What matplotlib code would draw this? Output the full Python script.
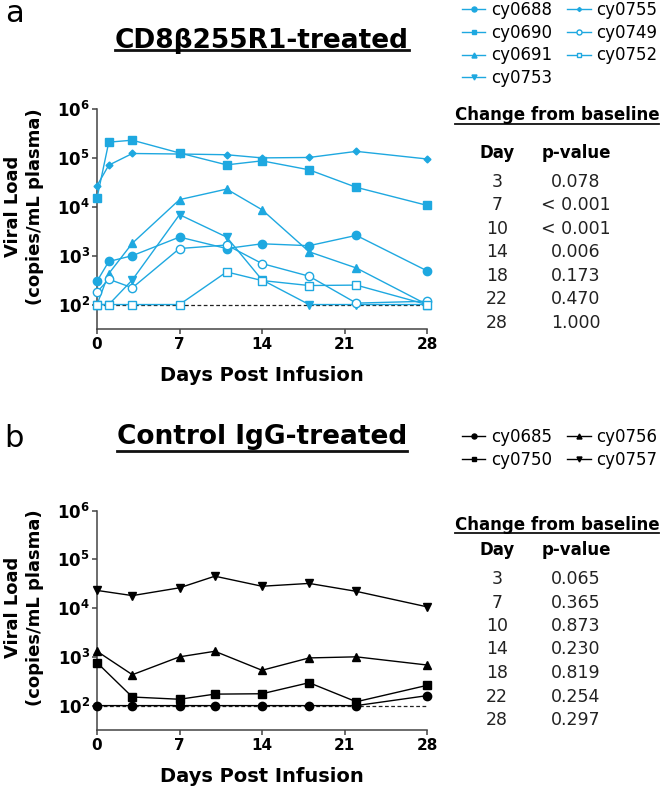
import matplotlib
matplotlib.use("Agg")
import matplotlib.pyplot as plt
from matplotlib.lines import Line2D

plt.rcParams['font.family'] = ['DejaVu Sans']
plt.rcParams['mathtext.fontset'] = 'dejavusans'

# panel a: CD8b255R1-treated
days_a = [0, 1, 3, 7, 11, 14, 18, 22, 28]
cy0688 = [300, 760, 1000, 2400, 1400, 1750, 1600, 2600, 490]
cy0690 = [15000, 210000, 230000, 126000, 72000, 87000, 57000, 25000, 10700]
cy0691 = [100, 430, 1800, 14000, 23000, 8700, 1200, 560, 100]
cy0753 = [100, 100, 320, 6900, 2400, 320, 100, 100, 100]
cy0755 = [27000, 71000, 123000, 120000, 116000, 100000, 102000, 136000, 95000]
cy0749 = [180, 330, 220, 1400, 1650, 690, 380, 107, 117]
cy0752 = [100, 100, 100, 100, 465, 310, 245, 250, 100]

# panel b: control IgG-treated
days_b = [0, 3, 7, 10, 14, 18, 22, 28]
cy0685 = [100, 100, 100, 100, 100, 100, 100, 160]
cy0750 = [760, 150, 135, 172, 175, 295, 120, 260]
cy0756 = [1300, 430, 1000, 1300, 530, 950, 1000, 680]
cy0757 = [23000, 18000, 26000, 45000, 28000, 32000, 22000, 10600]

lod = 100
table_days = ['3', '7', '10', '14', '18', '22', '28']
pvals_a = ['0.078', '< 0.001', '< 0.001', '0.006', '0.173', '0.470', '1.000']
pvals_b = ['0.065', '0.365', '0.873', '0.230', '0.819', '0.254', '0.297']

cyan = '#1ea8e0'
W, H = 666, 791
fig = plt.figure(figsize=(W / 100, H / 100), dpi=100)


def fx(x):
    return x / W


def fy(y):
    return 1 - y / H


ax_a = fig.add_axes([fx(97), fy(329), fx(427) - fx(97), fy(109) - fy(329)])
ax_b = fig.add_axes([fx(97), fy(730), fx(427) - fx(97), fy(510.5) - fy(730)])


def style(ax):
    ax.set_yscale('log')
    ax.set_ylim(10 ** 1.5, 1e6)
    ax.set_xlim(0, 28)
    ax.set_xticks([0, 7, 14, 21, 28])
    ax.set_xticklabels(['0', '7', '14', '21', '28'], fontsize=11, fontweight='bold')
    ax.set_yticks([1e2, 1e3, 1e4, 1e5, 1e6])
    ax.set_yticklabels([r'$\mathbf{10^{%d}}$' % k for k in range(2, 7)], fontsize=12)
    ax.minorticks_off()
    for s in ['top', 'right']:
        ax.spines[s].set_visible(False)
    for s in ['left', 'bottom']:
        ax.spines[s].set_color('#444444')
        ax.spines[s].set_linewidth(1.1)
    ax.tick_params(axis='both', length=3.5, width=1.1, color='#444444')
    ax.tick_params(axis='x', pad=2.5)
    ax.tick_params(axis='y', pad=1.5)
    ax.set_xlabel('Days Post Infusion', fontsize=14, fontweight='bold')
    ax.xaxis.set_label_coords(0.5, -0.17)
    ax.set_ylabel('Viral Load\n(copies/mL plasma)', fontsize=13, fontweight='bold',
                  linespacing=1.3, va='center')
    ax.yaxis.set_label_coords(-0.22, 0.558)
    ax.plot([0, 28], [lod, lod], color='#222222', ls=(0, (3, 2)), lw=0.9, zorder=1)


style(ax_a)
style(ax_b)

kw = dict(lw=1.0, clip_on=False, zorder=3)
ax_a.plot(days_a, cy0688, color=cyan, marker='o', ms=6, mec=cyan, label='cy0688', **kw)
ax_a.plot(days_a, cy0690, color=cyan, marker='s', ms=5.5, mec=cyan, label='cy0690', **kw)
ax_a.plot(days_a, cy0691, color=cyan, marker='^', ms=6, mec=cyan, label='cy0691', **kw)
ax_a.plot(days_a, cy0753, color=cyan, marker='v', ms=6, mec=cyan, label='cy0753', **kw)
ax_a.plot(days_a, cy0755, color=cyan, marker='D', ms=3.5, mec=cyan, label='cy0755', **kw)
ax_a.plot(days_a, cy0749, color=cyan, marker='o', ms=6, mec=cyan, mfc='white', mew=1.0,
          label='cy0749', **kw)
ax_a.plot(days_a, cy0752, color=cyan, marker='s', ms=5.5, mec=cyan, mfc='white', mew=1.0,
          label='cy0752', **kw)

ax_b.plot(days_b, cy0685, color='black', marker='o', ms=6, label='cy0685', **kw)
ax_b.plot(days_b, cy0750, color='black', marker='s', ms=5.5, label='cy0750', **kw)
ax_b.plot(days_b, cy0756, color='black', marker='^', ms=6, label='cy0756', **kw)
ax_b.plot(days_b, cy0757, color='black', marker='v', ms=6, label='cy0757', **kw)

leg_kw = dict(loc='upper left', ncol=2, frameon=False, fontsize=12, markerscale=0.6,
              handlelength=1.4, handletextpad=0.35, columnspacing=0.9, labelspacing=0.28,
              borderpad=0, borderaxespad=0)
fig.legend(*ax_a.get_legend_handles_labels(), bbox_to_anchor=(fx(462), fy(1)), **leg_kw)
fig.legend(*ax_b.get_legend_handles_labels(), bbox_to_anchor=(fx(462), fy(428)), **leg_kw)

# panel letters and titles
fig.text(fx(14), fy(13), 'a', fontsize=22, ha='center', va='center')
fig.text(fx(14), fy(438), 'b', fontsize=22, ha='center', va='center')
titles = [
    fig.text(fx(262), fy(41), 'CD8\u03b2255R1-treated', fontsize=19, fontweight='bold',
             ha='center', va='center'),
    fig.text(fx(262), fy(437), 'Control IgG-treated', fontsize=19, fontweight='bold',
             ha='center', va='center'),
]
title_lines = [50, 451]

heads = [
    fig.text(fx(557), fy(115), 'Change from baseline', fontsize=12, fontweight='bold',
             ha='center', va='center'),
    fig.text(fx(557), fy(525), 'Change from baseline', fontsize=12, fontweight='bold',
             ha='center', va='center'),
]
head_lines = [123.5, 533]

for y0, y_rows, pv in [(153, 181.7, pvals_a), (550, 579, pvals_b)]:
    fig.text(fx(497), fy(y0), 'Day', fontsize=12, fontweight='bold', ha='center', va='center')
    fig.text(fx(576), fy(y0), 'p-value', fontsize=12, fontweight='bold', ha='center',
             va='center')
    for i, (d, p) in enumerate(zip(table_days, pv)):
        yy = y_rows + i * 23.5
        fig.text(fx(497), fy(yy), d, fontsize=12.5, ha='center', va='center', color='#222222')
        fig.text(fx(576), fy(yy), p, fontsize=12.5, ha='center', va='center', color='#222222')

# underlines under the titles and table headers
fig.canvas.draw()
r = fig.canvas.get_renderer()
for t, yl, lw in list(zip(titles, title_lines, [2.0, 2.0])) + list(zip(heads, head_lines, [1.3, 1.3])):
    bb = t.get_window_extent(r)
    fig.add_artist(Line2D([bb.x0 / W, bb.x1 / W], [fy(yl), fy(yl)], color='#111111', lw=lw))

fig.savefig('out.png', dpi=100)
